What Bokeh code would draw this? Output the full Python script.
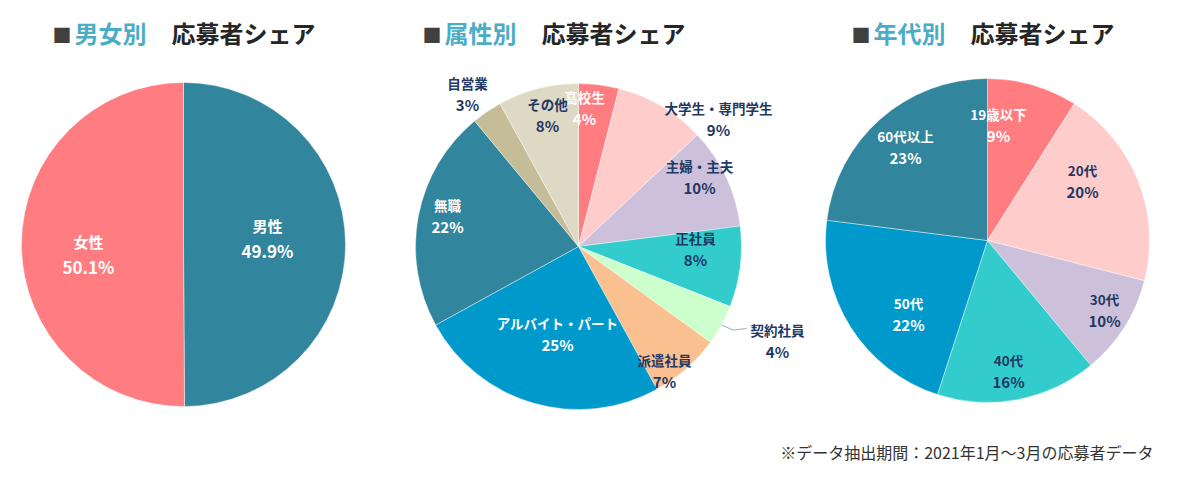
import numpy as np
from bokeh.plotting import figure
from bokeh.models import Range1d, ColumnDataSource
from bokeh.core.properties import value
from bokeh.embed import file_html
from bokeh.resources import INLINE

# ---------------- data ----------------
gender_labels = ["男性", "女性"]
gender_values = [49.9, 50.1]

attr_labels = ["高校生", "大学生・専門学生", "主婦・主夫", "正社員", "契約社員",
               "派遣社員", "アルバイト・パート", "無職", "自営業", "その他"]
attr_values = [4, 9, 10, 8, 4, 7, 25, 22, 3, 8]

age_labels = ["19歳以下", "20代", "30代", "40代", "50代", "60代以上"]
age_values = [9, 20, 10, 16, 22, 23]

title_heads = ["男女別", "属性別", "年代別"]
title_tail = "応募者シェア"
footnote = "※データ抽出期間：2021年1月～3月の応募者データ"

# ---------------- styles ----------------
NAVY = "#1F3864"
WHITE = "#FFFFFF"
gender_colors = ["#31859C", "#FF7C80"]
gender_text = [WHITE, WHITE]
attr_colors = ["#FF7C80", "#FFCCCC", "#CCC0DA", "#33CCCC", "#CCFFCC",
               "#FAC090", "#0099CC", "#31859C", "#C4BD97", "#DDD9C4"]
attr_text = [WHITE, NAVY, NAVY, NAVY, NAVY, NAVY, WHITE, WHITE, NAVY, NAVY]
age_colors = ["#FF7C80", "#FFCCCC", "#CCC0DA", "#33CCCC", "#0099CC", "#31859C"]
age_text = [WHITE, NAVY, NAVY, NAVY, WHITE, WHITE]

# label offsets from pie centre (pixels, y downward)
gender_off = [(84, -7), (-95, 9)]
attr_off = [(6, -139), (140, -128), (121, -70), (117, 2), (199, 94),
            (86, 124), (-21, 87), (-131, -31), (-111, -153), (-31, -132)]
age_off = [(11, -116), (95, -60), (117, 69), (21, 130), (-79, 73), (-82, -94)]

FONT = value("Noto Sans CJK JP")

W, H = 1172, 472
p = figure(width=W, height=H, x_range=Range1d(0, W), y_range=Range1d(0, H),
           output_backend="svg", toolbar_location=None, min_border=0,
           x_axis_type=None, y_axis_type=None)
p.grid.visible = False
p.outline_line_color = None
p.background_fill_color = "white"
p.border_fill_color = "white"


def Y(y_img):
    return H - y_img


def pie(cx, cy, R, labels, values, colors, tcolors, offs, fmt, fs_name, fs_pct, gap):
    vals = np.array(values, dtype=float)
    frac = vals / vals.sum()
    cum = np.concatenate([[0.0], np.cumsum(frac)])
    start = np.pi / 2 - cum[1:] * 2 * np.pi
    end = np.pi / 2 - cum[:-1] * 2 * np.pi
    src = ColumnDataSource(dict(start=start, end=end, color=colors))
    p.wedge(x=cx, y=Y(cy), radius=R, start_angle="start", end_angle="end",
            fill_color="color", line_color="white", line_width=0.6,
            line_alpha=0.7, source=src)
    xs = [cx + dx for dx, dy in offs]
    y1 = [Y(cy + dy - gap / 2) for dx, dy in offs]
    y2 = [Y(cy + dy + gap / 2) for dx, dy in offs]
    pct = [fmt.format(v) for v in values]
    lsrc = ColumnDataSource(dict(x=xs, y1=y1, y2=y2, name=labels, pct=pct, c=tcolors))
    for ycol, tcol, fs in (("y1", "name", fs_name), ("y2", "pct", fs_pct)):
        p.text(x="x", y=ycol, text=tcol, source=lsrc, text_color="c",
               text_font=FONT, text_font_style="bold", text_font_size=fs,
               text_align="center", text_baseline="middle")
    return cum


def title(x0, head):
    ty = Y(32)
    p.text(x=[x0], y=[Y(34)], text=["■"], text_color="#404040", text_font=FONT,
           text_font_size="19px", text_align="left", text_baseline="middle")
    p.text(x=[x0 + 22], y=[ty], text=[head], text_color="#4BACC6", text_font=FONT,
           text_font_style="bold", text_font_size="24px", text_align="left",
           text_baseline="middle")
    p.text(x=[x0 + 119], y=[ty], text=[title_tail], text_color="#262626", text_font=FONT,
           text_font_style="bold", text_font_size="24px", text_align="left",
           text_baseline="middle")


pie(183, 244, 162, gender_labels, gender_values, gender_colors, gender_text, gender_off,
    "{:.1f}%", "15px", "17px", 25)
cum2 = pie(578, 246, 163, attr_labels, attr_values, attr_colors, attr_text, attr_off,
           "{:.0f}%", "13.5px", "15px", 22)
pie(987, 240, 162, age_labels, age_values, age_colors, age_text, age_off,
    "{:.0f}%", "13.5px", "15px", 22)

# leader line for 契約社員
k = attr_labels.index("契約社員")
mid = (cum2[k] + cum2[k + 1]) / 2 * 2 * np.pi
sx = 578 + 163 * np.sin(mid)
sy = 246 - 163 * np.cos(mid)
ex = 578 + attr_off[k][0] - 31
ey = 246 + attr_off[k][1] - 12
p.line(x=[sx, sx + 12, ex], y=[Y(sy), Y(sy + 5), Y(ey)], line_color="#9FA8C8", line_width=1)

for x0, head in zip([52, 422, 851], title_heads):
    title(x0, head)

p.text(x=[1153], y=[Y(451)], text=[footnote], text_color="#333333", text_font=FONT,
       text_font_size="16px", text_align="right", text_baseline="middle")

open("out.html", "w").write(file_html(p, INLINE))
